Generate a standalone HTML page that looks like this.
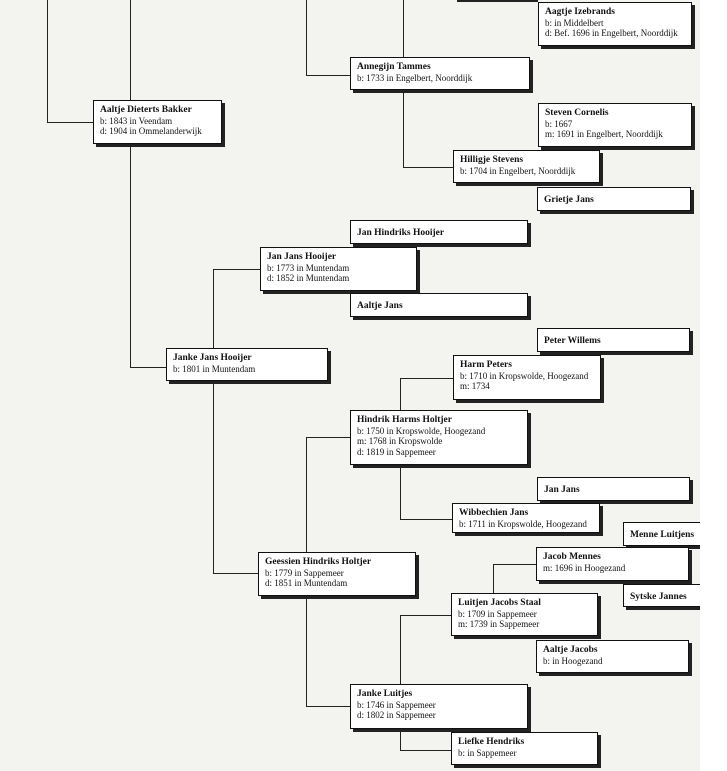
<!DOCTYPE html>
<html><head><meta charset="utf-8"><style>
body{margin:0;width:727px;height:771px;background:#f3f3ef;position:relative;overflow:hidden;font-family:"Liberation Serif",serif;}
.b{position:absolute;background:#fff;border:1px solid #111;box-shadow:3px 3px 0 #222;box-sizing:border-box;padding:3px 0 0 6px;font-size:9px;line-height:10.5px;color:#111;white-space:nowrap;}
.b b{font-size:9.5px;}
.l{position:absolute;background:#222;}
.h{height:1px}.v{width:1px}
</style></head><body>
<!-- lines -->
<div class="l v" style="left:47px;top:0;height:123px"></div>
<div class="l h" style="left:47px;top:122px;width:46px"></div>
<div class="l v" style="left:130px;top:0;height:368px"></div>
<div class="l h" style="left:130px;top:367px;width:36px"></div>
<div class="l v" style="left:306px;top:0;height:76px"></div>
<div class="l h" style="left:306px;top:75px;width:44px"></div>
<div class="l v" style="left:403px;top:0;height:58px"></div>
<div class="l h" style="left:457px;top:0;width:81px;height:2px"></div>
<div class="l v" style="left:403px;top:90px;height:78px"></div>
<div class="l h" style="left:403px;top:167px;width:50px"></div>
<div class="l v" style="left:213px;top:269px;height:305px"></div>
<div class="l h" style="left:213px;top:269px;width:47px"></div>
<div class="l h" style="left:213px;top:573px;width:45px"></div>
<div class="l v" style="left:306px;top:437px;height:270px"></div>
<div class="l h" style="left:306px;top:437px;width:44px"></div>
<div class="l h" style="left:306px;top:706px;width:44px"></div>
<div class="l v" style="left:400px;top:378px;height:142px"></div>
<div class="l h" style="left:400px;top:378px;width:53px"></div>
<div class="l h" style="left:400px;top:519px;width:53px"></div>
<div class="l v" style="left:400px;top:615px;height:136px"></div>
<div class="l h" style="left:400px;top:615px;width:51px"></div>
<div class="l h" style="left:400px;top:750px;width:51px"></div>
<div class="l v" style="left:493px;top:564px;height:30px"></div>
<div class="l h" style="left:493px;top:564px;width:43px"></div>
<!-- boxes -->
<div class="b" style="left:538px;top:2px;width:154px;height:44px"><b>Aagtje Izebrands</b><br>b: in Middelbert<br>d: Bef. 1696 in Engelbert, Noorddijk</div>
<div class="b" style="left:350px;top:57px;width:180px;height:33px"><b>Annegijn Tammes</b><br>b: 1733 in Engelbert, Noorddijk</div>
<div class="b" style="left:93px;top:100px;width:129px;height:44px"><b>Aaltje Dieterts Bakker</b><br>b: 1843 in Veendam<br>d: 1904 in Ommelanderwijk</div>
<div class="b" style="left:538px;top:103px;width:154px;height:44px"><b>Steven Cornelis</b><br>b: 1667<br>m: 1691 in Engelbert, Noorddijk</div>
<div class="b" style="left:453px;top:150px;width:147px;height:33px"><b>Hilligje Stevens</b><br>b: 1704 in Engelbert, Noorddijk</div>
<div class="b" style="left:537px;top:187px;width:154px;height:24px;padding-top:6px"><b>Grietje Jans</b></div>
<div class="b" style="left:350px;top:220px;width:178px;height:24px;padding-top:6px"><b>Jan Hindriks Hooijer</b></div>
<div class="b" style="left:260px;top:247px;width:157px;height:44px"><b>Jan Jans Hooijer</b><br>b: 1773 in Muntendam<br>d: 1852 in Muntendam</div>
<div class="b" style="left:350px;top:293px;width:178px;height:24px;padding-top:6px"><b>Aaltje Jans</b></div>
<div class="b" style="left:537px;top:328px;width:153px;height:24px;padding-top:6px"><b>Peter Willems</b></div>
<div class="b" style="left:166px;top:348px;width:162px;height:33px"><b>Janke Jans Hooijer</b><br>b: 1801 in Muntendam</div>
<div class="b" style="left:453px;top:355px;width:148px;height:45px"><b>Harm Peters</b><br>b: 1710 in Kropswolde, Hoogezand<br>m: 1734</div>
<div class="b" style="left:350px;top:410px;width:178px;height:55px"><b>Hindrik Harms Holtjer</b><br>b: 1750 in Kropswolde, Hoogezand<br>m: 1768 in Kropswolde<br>d: 1819 in Sappemeer</div>
<div class="b" style="left:537px;top:477px;width:153px;height:24px;padding-top:6px"><b>Jan Jans</b></div>
<div class="b" style="left:452px;top:503px;width:148px;height:30px"><b>Wibbechien Jans</b><br>b: 1711 in Kropswolde, Hoogezand</div>
<div class="b" style="left:623px;top:522px;width:90px;height:24px;padding-top:6px"><b>Menne Luitjens</b></div>
<div class="b" style="left:536px;top:547px;width:153px;height:34px"><b>Jacob Mennes</b><br>m: 1696 in Hoogezand</div>
<div class="b" style="left:258px;top:552px;width:158px;height:44px"><b>Geessien Hindriks Holtjer</b><br>b: 1779 in Sappemeer<br>d: 1851 in Muntendam</div>
<div class="b" style="left:623px;top:584px;width:90px;height:23px;padding-top:6px"><b>Sytske Jannes</b></div>
<div class="b" style="left:451px;top:593px;width:147px;height:43px"><b>Luitjen Jacobs Staal</b><br>b: 1709 in Sappemeer<br>m: 1739 in Sappemeer</div>
<div class="b" style="left:536px;top:640px;width:153px;height:33px"><b>Aaltje Jacobs</b><br>b: in Hoogezand</div>
<div class="b" style="left:350px;top:684px;width:178px;height:45px"><b>Janke Luitjes</b><br>b: 1746 in Sappemeer<br>d: 1802 in Sappemeer</div>
<div class="b" style="left:451px;top:732px;width:147px;height:33px"><b>Liefke Hendriks</b><br>b: in Sappemeer</div>
<div style="position:absolute;left:700px;top:0;width:27px;height:771px;background:#fff"></div>
</body></html>
